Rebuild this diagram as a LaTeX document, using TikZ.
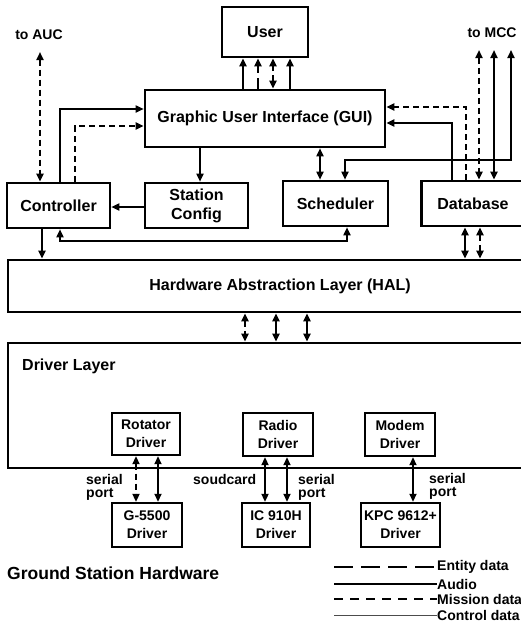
\documentclass[tikz,border=0pt]{standalone}
\usepackage{fontspec}
\setmainfont{Liberation Sans}
\usetikzlibrary{arrows.meta}
\begin{document}
\begin{tikzpicture}[x=1pt,y=-1pt,
  >={Triangle[length=8pt,width=7pt]},
  box/.style={draw,line width=2.6pt,fill=white,inner sep=0pt,align=center,
    font=\bfseries\fontsize{16}{19}\selectfont},
  sbox/.style={box,line width=2.4pt,font=\bfseries\fontsize{14}{18}\selectfont},
  lbl/.style={inner sep=0pt,align=left,font=\bfseries\fontsize{14}{13}\selectfont},
  audio/.style={line width=2.6pt},
  ctl/.style={line width=1.7pt},
  mission/.style={line width=2.2pt,dash pattern=on 6pt off 4pt},
  entity/.style={line width=2pt,dash pattern=on 11pt off 5pt},
  thinline/.style={line width=0.9pt,black!70}]
\useasboundingbox (0,0) rectangle (521,629);
\clip (0,0) rectangle (521,629);

% boxes
\node[box,minimum width=86pt,minimum height=50pt] (user) at (265,32) {User};
\node[box,minimum width=240pt,minimum height=57pt] (gui) at (265,118.5) {Graphic User Interface (GUI)};
\node[box,minimum width=103pt,minimum height=45pt] (ctrl) at (58.5,205.5) {Controller};
\node[box,minimum width=103pt,minimum height=45pt] (stcfg) at (196.5,205.5) {Station\\Config};
\node[box,minimum width=105pt,minimum height=45pt] (sched) at (335.5,203.5) {Scheduler};
\node[box,minimum width=103pt,minimum height=45pt] (db) at (473,203.5) {Database};
\node[box,minimum width=544pt,minimum height=52pt] (hal) at (280,286) {Hardware Abstraction Layer (HAL)};
\node[box,minimum width=544pt,minimum height=125pt] (drv) at (280,405.5) {};
\node[inner sep=0pt,anchor=west,font=\bfseries\fontsize{16}{19}\selectfont] (drvlbl) at (22,366) {Driver Layer};

\node[sbox,minimum width=68pt,minimum height=42pt] (rot) at (146,434) {Rotator\\Driver};
\node[sbox,minimum width=70pt,minimum height=43pt] (radio) at (278,434.5) {Radio\\Driver};
\node[sbox,minimum width=70pt,minimum height=43pt] (modem) at (400,434.5) {Modem\\Driver};
\node[sbox,minimum width=70pt,minimum height=44pt] (g55) at (147,525) {G-5500\\Driver};
\node[sbox,minimum width=68pt,minimum height=44pt] (ic) at (276,525) {IC 910H\\Driver};
\node[sbox,minimum width=79pt,minimum height=44pt] (kpc) at (400.5,525) {KPC 9612+\\Driver};

% free labels
\node[lbl] (auc) at (39,35) {to AUC};
\node[lbl] (mcc) at (492,33) {to MCC};
\node[lbl,anchor=north west] (sp1) at (86,474) {serial\\port};
\node[lbl,anchor=north west] (sc) at (193,474) {soudcard};
\node[lbl,anchor=north west] (sp2) at (298,474) {serial\\port};
\node[lbl,anchor=north west] (sp3) at (429,473) {serial\\port};
\node[inner sep=0pt,anchor=west,font=\bfseries\fontsize{17.5}{20}\selectfont] (gsh) at (7,573) {Ground Station Hardware};

% free ends
\coordinate (aucend) at (40,52);
\coordinate (mcc1) at (479,50);
\coordinate (mcc2) at (494,50);
\coordinate (mcc3) at (511,50);

% User <-> GUI
\draw[audio,->] (gui.north -| 243,0) -- (user.south -| 243,0);
\draw[entity,->] (gui.north -| 258,0) -- (user.south -| 258,0);
\draw[mission,<->] (gui.north -| 273,0) -- (user.south -| 273,0);
\draw[audio,->] (gui.north -| 290,0) -- (user.south -| 290,0);

% AUC
\draw[mission,<->] (aucend) -- (aucend |- ctrl.north);

% Controller -> GUI
\draw[ctl,->] (ctrl.north -| 60,0) |- (gui.west |- 0,109);
\draw[mission,->] (ctrl.north -| 75,0) |- (gui.west |- 0,126);

% GUI -> Station Config -> Controller
\draw[ctl,->] (gui.south -| 200,0) -- (stcfg.north -| 200,0);
\draw[ctl,->] (stcfg.west |- 0,207) -- (ctrl.east |- 0,207);

% GUI <-> Scheduler
\draw[ctl,<->] (gui.south -| 320,0) -- (sched.north -| 320,0);

% MCC
\draw[ctl,<->] (mcc3) |- (345,160) -- (sched.north -| 345,0);
\draw[audio,<->] (mcc2) -- (db.north -| mcc2);
\draw[mission,<->] (mcc1) -- (db.north -| mcc1);

% Database -> GUI
\draw[audio,->] (db.north -| 452,0) |- (gui.east |- 0,123);
\draw[mission,->] (db.north -| 466,0) |- (gui.east |- 0,107);

% Controller -> HAL, Controller <-> Scheduler
\draw[audio,->] (ctrl.south -| 42,0) -- (hal.north -| 42,0);
\draw[ctl,<->] (ctrl.south -| 60,0) |- (347,241) -- (sched.south -| 347,0);

% Database <-> HAL
\draw[audio,<->] (db.south -| 465,0) -- (hal.north -| 465,0);
\draw[mission,<->] (db.south -| 480,0) -- (hal.north -| 480,0);

% HAL <-> Driver Layer
\draw[mission,<->] (hal.south -| 245,0) -- (drv.north -| 245,0);
\draw[audio,<->] (hal.south -| 276,0) -- (drv.north -| 276,0);
\draw[audio,<->] (hal.south -| 307,0) -- (drv.north -| 307,0);

% drivers <-> hardware
\draw[mission,<->] (rot.south -| 136,0) -- (g55.north -| 136,0);
\draw[ctl,<->] (rot.south -| 158,0) -- (g55.north -| 158,0);
\draw[audio,<->] (radio.south -| 265,0) -- (ic.north -| 265,0);
\draw[ctl,<->] (radio.south -| 287,0) -- (ic.north -| 287,0);
\draw[ctl,<->] (modem.south -| 413,0) -- (kpc.north -| 413,0);

% legend
\node[lbl,anchor=west] (lt1) at (437,567) {Entity data};
\node[lbl,anchor=west] (lt2) at (437,584) {Audio};
\node[lbl,anchor=west] (lt3) at (437,599) {Mission data};
\node[lbl,anchor=west] (lt4) at (437,615) {Control data};
\coordinate (ls1) at (334,567);
\coordinate (ls2) at (334,584);
\coordinate (ls3) at (334,599);
\coordinate (ls4) at (334,615);
\draw[line width=1.8pt,dash pattern=on 19pt off 8pt] (ls1) -- (lt1.west);
\draw[line width=2.8pt] (ls2) -- (lt2.west);
\draw[line width=2.4pt,dash pattern=on 9pt off 7pt] (ls3) -- (lt3.west);
\draw[thinline] (ls4) -- (lt4.west);
\end{tikzpicture}
\end{document}
